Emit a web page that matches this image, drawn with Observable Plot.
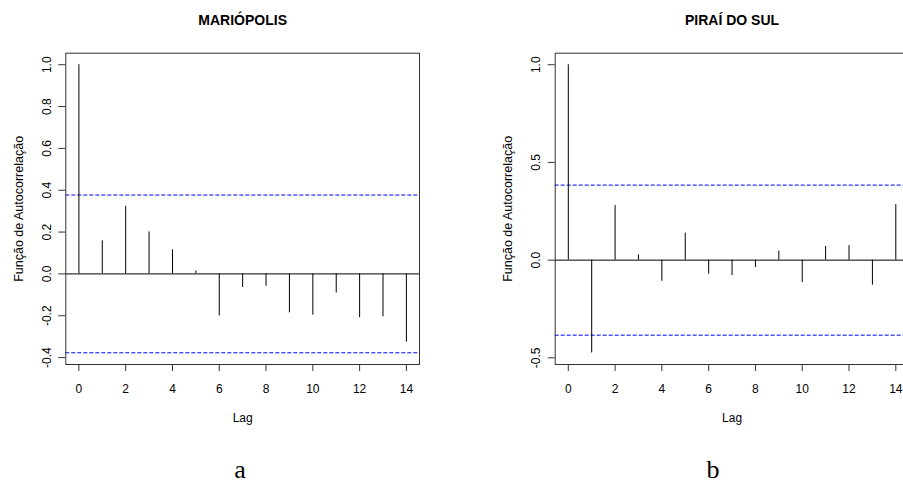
<!DOCTYPE html>
<html>
<head>
<meta charset="utf-8">
<script src="https://cdn.jsdelivr.net/npm/d3@7"></script>
<script src="https://cdn.jsdelivr.net/npm/@observablehq/plot@0.6"></script>
<style>
html, body { margin: 0; padding: 0; background: #fff; overflow: hidden; }
#wrap { position: relative; width: 903px; height: 483px; overflow: hidden; background: #fff; }
.panel { position: absolute; top: 0; height: 483px; }
.panel svg { max-width: none !important; display: block; }
.tag { position: absolute; width: 100px; text-align: center; font-family: "Liberation Serif", "DejaVu Serif", serif; font-size: 26px; line-height: 26px; color: #000; }
</style>
</head>
<body>
<div id="wrap">
  <div id="left" class="panel" style="left:0px; width:450px"></div>
  <div id="right" class="panel" style="left:450px; width:470px"></div>
  <div class="tag" style="left:190px; top:457px">a</div>
  <div class="tag" style="left:663px; top:457px">b</div>
</div>
<script>
// ---- data ----
const lags = [0, 1, 2, 3, 4, 5, 6, 7, 8, 9, 10, 11, 12, 13, 14];
const acfMariopolis = [1.0, 0.158, 0.323, 0.201, 0.115, 0.014, -0.201, -0.065, -0.059, -0.186, -0.197, -0.091, -0.209, -0.205, -0.326];
const acfPirai = [1.0, -0.475, 0.280, 0.027, -0.108, 0.138, -0.072, -0.079, -0.038, 0.046, -0.115, 0.070, 0.074, -0.128, 0.284];
const ciMariopolis = 0.377;
const ciPirai = 0.384;
const titles = ["MARIÓPOLIS", "PIRAÍ DO SUL"];
const xTicks = [0, 2, 4, 6, 8, 10, 12, 14];
const yTicksMariopolis = [-0.4, -0.2, 0.0, 0.2, 0.4, 0.6, 0.8, 1.0];
const yTicksPirai = [-0.5, 0.0, 0.5, 1.0];
const xLabel = "Lag";
const yLabel = "Função de Autocorrelação";

const FONT = "'Liberation Sans', Arial, Helvetica, sans-serif";

function panel({title, acf, ci, yTicks, yDomain, width, marginLeft, marginRight}) {
  const rows = lags.map((lag, i) => ({lag, acf: acf[i]}));
  return Plot.plot({
    width,
    height: 483,
    marginTop: 52.7,
    marginBottom: 119,
    marginLeft,
    marginRight,
    style: {fontFamily: FONT, fontSize: "12px", color: "#000", background: "transparent", maxWidth: "none"},
    x: {domain: [-0.56, 14.56]},
    y: {domain: yDomain},
    marks: [
      Plot.ruleY([ci, -ci], {stroke: "#0000ff", strokeDasharray: "4,2", strokeWidth: 1}),
      Plot.ruleY([0], {stroke: "#000", strokeWidth: 1}),
      Plot.ruleX(rows, {x: "lag", y1: 0, y2: "acf", stroke: "#000", strokeWidth: 1}),
      Plot.frame({stroke: "#333", strokeWidth: 1}),
      Plot.axisX({ticks: xTicks, tickSize: 7, tickPadding: 13, label: null, fontSize: 12, stroke: "#333"}),
      Plot.axisY({ticks: yTicks, tickSize: 7, tickFormat: () => "", label: null, stroke: "#333"}),
      Plot.text(yTicks, {y: d => d, text: d => d.toFixed(1), frameAnchor: "left", dx: -18.6, rotate: -90, textAnchor: "middle", lineAnchor: "middle", fontSize: 12, fill: "#000"}),
      Plot.text([title], {text: d => d, frameAnchor: "top", dy: -32.7, textAnchor: "middle", lineAnchor: "middle", fontWeight: "bold", fontSize: 14, fill: "#000"}),
      Plot.text([xLabel], {text: d => d, frameAnchor: "bottom", dy: 54, textAnchor: "middle", lineAnchor: "middle", fontSize: 12, fill: "#000"}),
      Plot.text([yLabel], {text: d => d, frameAnchor: "left", dx: -47.3, rotate: -90, textAnchor: "middle", lineAnchor: "middle", fontSize: 12.5, fill: "#000"})
    ]
  });
}

document.getElementById("left").append(panel({
  title: titles[0], acf: acfMariopolis, ci: ciMariopolis,
  yTicks: yTicksMariopolis, yDomain: [-0.433, 1.055],
  width: 450, marginLeft: 65.3, marginRight: 31
}));
document.getElementById("right").append(panel({
  title: titles[1], acf: acfPirai, ci: ciPirai,
  yTicks: yTicksPirai, yDomain: [-0.534, 1.059],
  width: 470, marginLeft: 104.7, marginRight: 11.6
}));
</script>
</body>
</html>
